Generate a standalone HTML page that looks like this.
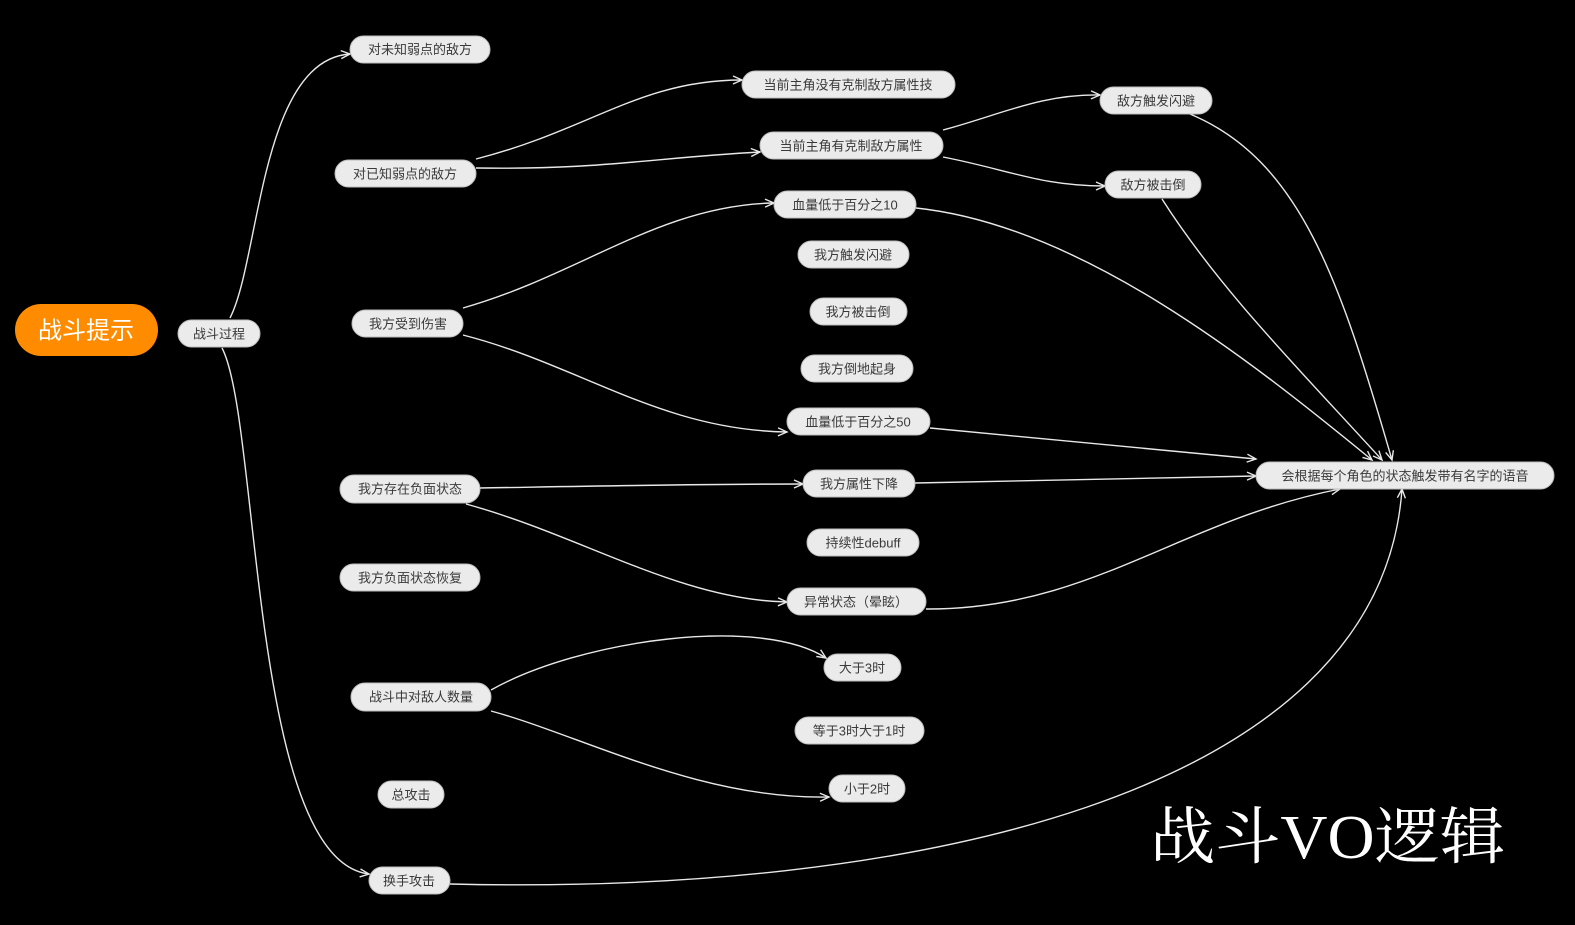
<!DOCTYPE html>
<html><head><meta charset="utf-8"><style>
html,body{margin:0;padding:0;background:#000;}
svg{display:block;}
.n rect{fill:#ebebeb;stroke:#bdbdbd;stroke-width:1;}
.n text{font-family:"Liberation Sans","Noto Sans CJK SC",sans-serif;font-size:13px;fill:#3a3a3a;text-anchor:middle;dominant-baseline:central;}
path.e{fill:none;stroke:#e8e8e8;stroke-width:1.4;}
</style></head><body>
<svg width="1575" height="925" viewBox="0 0 1575 925" xmlns="http://www.w3.org/2000/svg">
<defs><marker id="a" markerWidth="12" markerHeight="10" refX="10" refY="5" orient="auto" markerUnits="userSpaceOnUse"><path d="M1,1 L10,5 L1,9" fill="none" stroke="#e8e8e8" stroke-width="1.4"/></marker></defs>
<rect width="1575" height="925" fill="#000"/>
<g marker-end="url(#a)">
<path class="e" d="M230,318 C260,260 260,60 350,54"/>
<path class="e" d="M222,348 C260,420 250,860 369,874"/>
<path class="e" d="M476,159 C590,130 640,80 742,80"/>
<path class="e" d="M476,168 C600,170 650,158 760,152"/>
<path class="e" d="M943,130 C1000,115 1040,94 1100,95"/>
<path class="e" d="M943,157 C1010,170 1040,186 1105,186"/>
<path class="e" d="M463,308 C580,275 660,205 774,203"/>
<path class="e" d="M463,335 C580,365 660,430 787,432"/>
<path class="e" d="M480,488 C600,486 700,484 803,484"/>
<path class="e" d="M466,504 C580,535 680,600 787,602"/>
<path class="e" d="M491,690 C580,640 760,615 826,658"/>
<path class="e" d="M491,711 C580,735 700,800 829,797"/>
<path class="e" d="M1190,114 C1300,160 1340,280 1392,460"/>
<path class="e" d="M1162,199 C1220,290 1300,370 1382,460"/>
<path class="e" d="M916,208 C1080,225 1250,360 1372,460"/>
<path class="e" d="M930,428 C1060,440 1160,450 1256,459"/>
<path class="e" d="M915,483 C1050,480 1160,477 1256,476"/>
<path class="e" d="M926,609 C1090,610 1180,520 1340,489"/>
<path class="e" d="M450,884 C900,895 1380,800 1402,489"/>
</g>
<rect x="15" y="304" width="143" height="52" rx="26" fill="#ff8c00"/>
<text x="86" y="331" font-family="Liberation Sans,'Noto Sans CJK SC',sans-serif" font-size="24" fill="#fff" text-anchor="middle" dominant-baseline="central">战斗提示</text>
<g class="n">
<rect x="178" y="320" width="82" height="27" rx="13.5"/><text x="219" y="334">战斗过程</text>
<rect x="350" y="36" width="140" height="27" rx="13.5"/><text x="420" y="49.5">对未知弱点的敌方</text>
<rect x="335" y="160" width="141" height="27" rx="13.5"/><text x="405" y="174">对已知弱点的敌方</text>
<rect x="352" y="310" width="111" height="27" rx="13.5"/><text x="408" y="324">我方受到伤害</text>
<rect x="340" y="475" width="140" height="28" rx="14"/><text x="410" y="489">我方存在负面状态</text>
<rect x="340" y="564" width="140" height="27" rx="13.5"/><text x="410" y="578">我方负面状态恢复</text>
<rect x="351" y="683" width="140" height="28" rx="14"/><text x="421" y="697">战斗中对敌人数量</text>
<rect x="378" y="781" width="66" height="27" rx="13.5"/><text x="411" y="795">总攻击</text>
<rect x="369" y="867" width="81" height="27" rx="13.5"/><text x="409" y="881">换手攻击</text>
<rect x="742" y="71" width="213" height="27" rx="13.5"/><text x="848" y="85">当前主角没有克制敌方属性技</text>
<rect x="760" y="132" width="183" height="27" rx="13.5"/><text x="851" y="146">当前主角有克制敌方属性</text>
<rect x="774" y="191" width="142" height="27" rx="13.5"/><text x="845" y="205">血量低于百分之10</text>
<rect x="798" y="241" width="111" height="27" rx="13.5"/><text x="853" y="255">我方触发闪避</text>
<rect x="810" y="298" width="97" height="27" rx="13.5"/><text x="858" y="312">我方被击倒</text>
<rect x="801" y="355" width="112" height="27" rx="13.5"/><text x="857" y="369">我方倒地起身</text>
<rect x="787" y="408" width="143" height="27" rx="13.5"/><text x="858" y="422">血量低于百分之50</text>
<rect x="803" y="470" width="112" height="27" rx="13.5"/><text x="859" y="484">我方属性下降</text>
<rect x="807" y="529" width="112" height="27" rx="13.5"/><text x="863" y="543">持续性debuff</text>
<rect x="787" y="588" width="139" height="27" rx="13.5"/><text x="856" y="602">异常状态（晕眩）</text>
<rect x="824" y="654" width="77" height="27" rx="13.5"/><text x="862" y="668">大于3时</text>
<rect x="795" y="717" width="129" height="27" rx="13.5"/><text x="859" y="731">等于3时大于1时</text>
<rect x="829" y="775" width="76" height="27" rx="13.5"/><text x="867" y="789">小于2时</text>
<rect x="1100" y="87" width="112" height="27" rx="13.5"/><text x="1156" y="101">敌方触发闪避</text>
<rect x="1105" y="171" width="96" height="27" rx="13.5"/><text x="1153" y="185">敌方被击倒</text>
<rect x="1256" y="462" width="298" height="27" rx="13.5"/><text x="1405" y="476">会根据每个角色的状态触发带有名字的语音</text>
</g>
<text x="1150" y="858" font-family="Liberation Serif,'Noto Serif CJK SC',serif" font-size="62" fill="#fff" textLength="355" lengthAdjust="spacingAndGlyphs">战斗VO逻辑</text>
</svg>
</body></html>
